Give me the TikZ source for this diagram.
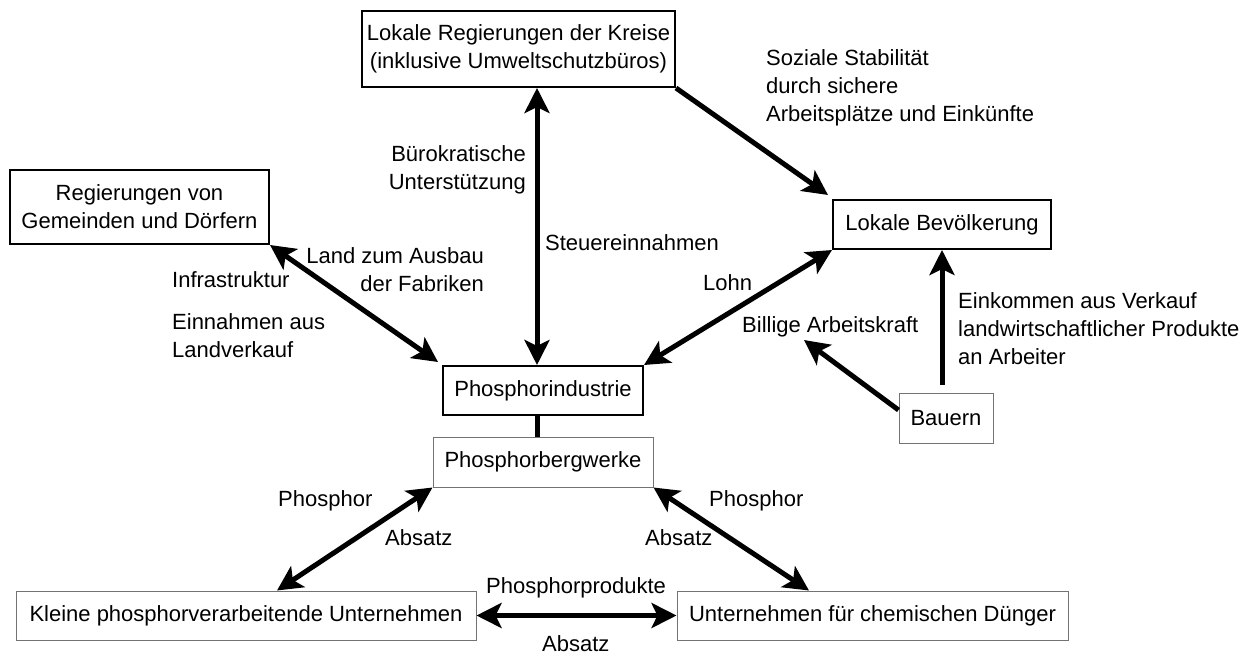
\documentclass[tikz,border=0pt]{standalone}
\usepackage{fontspec}
\setmainfont{Liberation Sans}
\usetikzlibrary{arrows.meta}
\begin{document}
\begin{tikzpicture}[x=1pt,y=-1pt,
  every node/.style={font=\fontsize{22}{28}\selectfont},
  thickbox/.style={draw=black,line width=2pt,inner sep=0pt,align=center},
  thinbox/.style={draw=black!55,line width=1pt,inner sep=0pt,align=center},
  lbl/.style={inner sep=0pt},
  conn/.style={line width=5pt,line cap=butt},
  one/.style={conn,-{Stealth[length=25pt,width=25pt,inset=6pt]}},
  two/.style={conn,{Stealth[length=25pt,width=25pt,inset=6pt]}-{Stealth[length=25pt,width=25pt,inset=6pt]}}
]
\useasboundingbox (0,0) rectangle (1252,655);
% boxes
\node[thickbox,minimum width=313pt,minimum height=76pt] (lrk) at (518.5,49) {Lokale Regierungen der Kreise\\(inklusive Umweltschutzbüros)};
\node[thickbox,minimum width=259pt,minimum height=74pt] (gem) at (139.5,207) {Regierungen von\\Gemeinden und Dörfern};
\node[thickbox,minimum width=218pt,minimum height=49pt] (bev) at (942,224.5) {Lokale Bevölkerung};
\node[thickbox,minimum width=200pt,minimum height=49pt] (ind) at (543,390.5) {Phosphorindustrie};
\node[thinbox,minimum width=220pt,minimum height=50pt] (berg) at (543,462) {Phosphorbergwerke};
\node[thinbox,minimum width=94pt,minimum height=50pt] (bau) at (946,418) {Bauern};
\node[thinbox,minimum width=460pt,minimum height=49pt] (kl) at (246,615.5) {Kleine phosphorverarbeitende Unternehmen};
\node[thinbox,minimum width=391pt,minimum height=49pt] (dg) at (872.5,615.5) {Unternehmen für chemischen Dünger};
% labels
\node[lbl,anchor=west,align=left] (l1) at (766,88) {Soziale Stabilität\\durch sichere\\Arbeitsplätze und Einkünfte};
\node[lbl,anchor=east,align=right] (l2) at (526,170) {Bürokratische\\Unterstützung};
\node[lbl,anchor=west] (l3) at (545,243) {Steuereinnahmen};
\node[lbl,anchor=east,align=right] (l4) at (484,270) {Land zum Ausbau\\der Fabriken};
\node[lbl,anchor=west] (l5) at (172,280) {Infrastruktur};
\node[lbl,anchor=west,align=left] (l6) at (172,336) {Einnahmen aus\\Landverkauf};
\node[lbl,anchor=west] (l7) at (703,283) {Lohn};
\node[lbl,anchor=west] (l8) at (742,327) {Billige Arbeitskraft};
\node[lbl,anchor=west,align=left] (l9) at (958,329) {Einkommen aus Verkauf\\landwirtschaftlicher Produkte\\an Arbeiter};
\node[lbl,anchor=west] (l10) at (278,501) {Phosphor};
\node[lbl,anchor=west] (l11) at (385,538) {Absatz};
\node[lbl,anchor=west] (l12) at (709,501) {Phosphor};
\node[lbl,anchor=west] (l13) at (645,538) {Absatz};
\node[lbl,anchor=west] (l14) at (486,588) {Phosphorprodukte};
\node[lbl,anchor=west] (l15) at (542,644) {Absatz};
% helper coordinates
\coordinate (vx) at (537,0);
\coordinate (kx) at (277,0);
\coordinate (dx) at (809,0);
\coordinate (bak) at (804,340);
% connectors
\draw[two] (lrk.south -| vx) -- (ind.north -| vx);
\draw[conn] (ind.south -| vx) -- (berg.north -| vx);
\draw[one] (lrk.south east) -- ([shift={(-4pt,4pt)}]bev.north west);
\draw[two] (gem.south east) -- ([shift={(-4pt,3pt)}]ind.north west);
\draw[two] (bev.south west) -- (ind.north east);
\draw[one] ([yshift=8pt]bau.west) -- (bak);
\draw[one] ([yshift=8pt]bau.north -| bev.south) -- (bev.south);
\draw[two] (berg.south west) -- (kl.north -| kx);
\draw[two] (berg.south east) -- (dg.north -| dx);
\draw[two] (kl.east) -- (dg.west);
\end{tikzpicture}
\end{document}
